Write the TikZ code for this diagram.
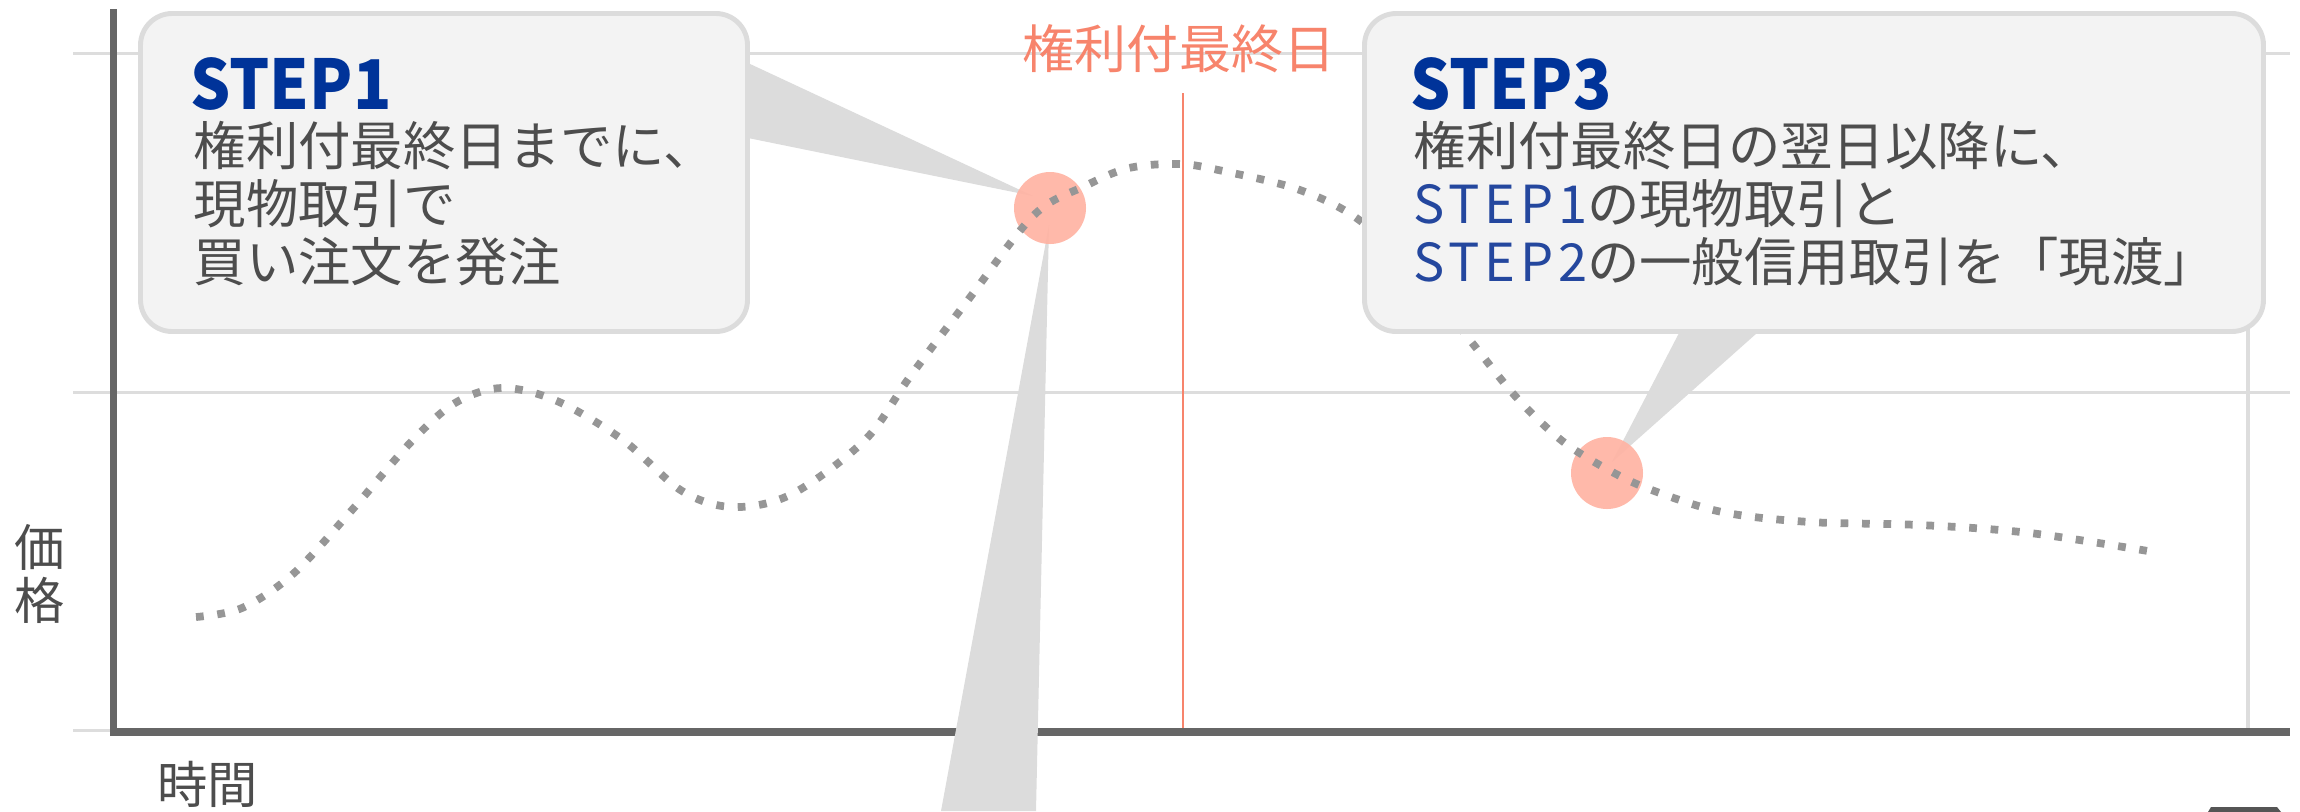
\documentclass[tikz,border=0pt]{standalone}
\usepackage{fontspec}
\setmainfont{Noto Sans CJK JP}
\definecolor{axisgray}{HTML}{666666}
\definecolor{gridgray}{HTML}{DDDDDD}
\definecolor{kenrired}{HTML}{F7846C}
\definecolor{dotgray}{HTML}{969696}
\definecolor{boxfill}{HTML}{F3F3F3}
\definecolor{boxline}{HTML}{DCDCDC}
\definecolor{tailgray}{HTML}{DCDCDC}
\definecolor{circfill}{HTML}{FFB3A3}
\definecolor{txtgray}{HTML}{4D4D4D}
\definecolor{stepblue}{HTML}{003399}
\definecolor{stepblue2}{HTML}{24479E}
\definecolor{btngray}{HTML}{555555}
\newcommand{\headtxt}[1]{\scalebox{0.92}[1]{#1}}
\newcommand{\steplatin}[1]{\textcolor{stepblue2}{\addfontfeature{LetterSpace=9}#1}}
\tikzset{
  gridline/.style={gridgray, line width=0.85pt},
  axisline/.style={axisgray, line width=2.2pt},
  callbox/.style={fill=boxfill, draw=boxline, line width=1.4pt, rounded corners=9pt},
  calltail/.style={fill=tailgray},
  hit/.style={fill=circfill, fill opacity=0.92},
  dotcurve/.style={dotgray, line width=2.2pt, dash pattern=on 2.2pt off 3.9pt},
  head/.style={anchor=base west, inner sep=0pt, text=stepblue, font=\fontsize{19.5pt}{22pt}\selectfont\bfseries},
  body/.style={anchor=base west, inner sep=0pt, text=txtgray, font=\fontsize{14.9pt}{17pt}\selectfont},
}
\begin{document}
\begin{tikzpicture}[x=0.01cm, y=-0.01cm]
\useasboundingbox (0,0) rectangle (2300,811);
% grid
\draw[gridline] (73,53) -- (2290,53);
\draw[gridline] (73,392) -- (2290,392);
\draw[gridline] (73,730) -- (2290,730);
\draw[gridgray, line width=1.1pt] (2248,53) -- (2248,729);
% deadline line
\draw[kenrired, line width=0.6pt] (1183,93) -- (1183,729);
% axes
\draw[axisline] (113.5,9) -- (113.5,736);
\draw[axisline] (110,732) -- (2290,732);
% tails
\fill[calltail] (748,63) -- (748,138) -- (1033,196) -- cycle;
\fill[calltail] (1049,225) -- (1036,811) -- (941,811) -- cycle;
\fill[calltail] (1679,333) -- (1757,333) -- (1612,462) -- cycle;
% highlight circles
\fill[hit] (1050,208) circle[radius=36];
\fill[hit] (1607,473) circle[radius=36];
% price curve
\draw[dotcurve] plot[smooth, tension=0.55] coordinates {
 (196,617) (242,608) (293,574) (352,510) (411,442) (455,403) (502,388)
 (557,401) (623,440) (682,491) (733,507) (792,494) (865,440) (909,378)
 (968,300) (1034,215) (1085,186) (1129,168) (1180,164) (1223,171)
 (1297,189) (1355,217) (1412,268) (1473,344) (1517,398) (1561,440)
 (1605,468) (1649,489) (1722,512) (1810,522) (1920,525) (2030,533) (2160,553)};
% callout boxes
\draw[callbox] (140.5,13.5) rectangle (747.5,331.5);
\draw[callbox] (1364.5,13.5) rectangle (2263.5,331.5);
% partially visible element at bottom right
\fill[btngray] (2208,812) -- (2211,807) -- (2277,807) -- (2281,812) -- cycle;
% texts
\node[anchor=base, inner sep=0pt, text=kenrired, font=\fontsize{14.8pt}{17pt}\selectfont] (kenri) at (1179,68) {権利付最終日};
\node[anchor=base, inner sep=0pt, align=center, text=txtgray, font=\fontsize{14.3pt}{14.8pt}\selectfont] (price) at (40,619) {価\\格};
\node[body, font=\fontsize{14.3pt}{17pt}\selectfont] (time) at (157,803) {時間};
\node[head] (s1h) at (190,109) {\headtxt{STEP1}};
\node[body] (s1a) at (193,165) {権利付最終日までに、};
\node[body] (s1b) at (193,223) {現物取引で};
\node[body] (s1c) at (193,281) {買い注文を発注};
\node[head] (s3h) at (1410,109) {\headtxt{STEP3}};
\node[body] (s3a) at (1413,165) {権利付最終日の翌日以降に、};
\node[body] (s3b) at (1413,223) {\steplatin{STEP1}の現物取引と};
\node[body] (s3c) at (1413,281) {\steplatin{STEP2}の一般信用取引を「現渡」};
\end{tikzpicture}
\end{document}
